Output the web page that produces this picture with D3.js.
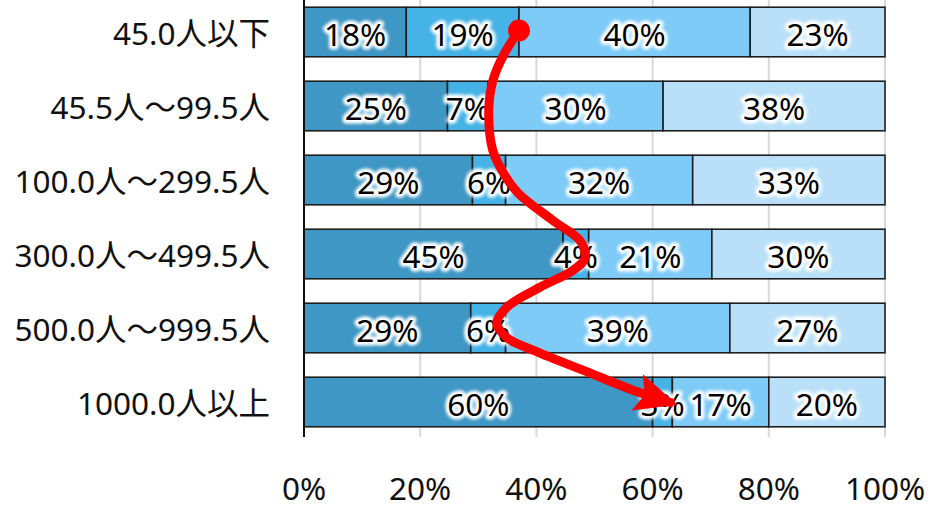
<!DOCTYPE html>
<html>
<head>
<meta charset="utf-8">
<script src="https://cdn.jsdelivr.net/npm/d3@7"></script>
<style>
  html, body { margin: 0; padding: 0; background: #fff; }
  text { font-family: "Noto Sans", "Noto Sans CJK JP", sans-serif; }
</style>
</head>
<body>
<div id="chart"></div>
<script>
// categories (top to bottom)
const categories = ['45.0人以下', '45.5人～99.5人', '100.0人～299.5人', '300.0人～499.5人', '500.0人～999.5人', '1000.0人以上'];
// share of each segment, %
const seg1 = [17.6, 24.7, 29.0, 44.6, 28.7, 60.0];
const seg2 = [19.4, 7.0, 5.7, 4.4, 6.0, 3.4];
const seg3 = [39.8, 30.1, 32.2, 21.2, 38.6, 16.6];
const seg4 = [23.2, 38.2, 33.1, 29.8, 26.7, 20.0];
// printed labels
const labels1 = [18, 25, 29, 45, 29, 60];
const labels2 = [19, 7, 6, 4, 6, 3];
const labels3 = [40, 30, 32, 21, 39, 17];
const labels4 = [23, 38, 33, 30, 27, 20];
const xTicks = [0, 20, 40, 60, 80, 100];
// red annotation arrow, [percent, row position]
const arrowPts = [[37.0, -0.02], [34.3, 0.32], [32.5, 0.66], [31.8, 1.06], [32.5, 1.60], [34.6, 1.94],
  [36.9, 2.18], [42.9, 2.55], [47.5, 2.82], [48.4, 3.05], [46.3, 3.22], [40.6, 3.45], [34.9, 3.72],
  [33.2, 3.93], [34.9, 4.13], [39.4, 4.30], [48.0, 4.57], [56.6, 4.84], [63.6, 5.02]];

const colors = ['#3e97c4', '#46b3e6', '#7ecbf7', '#b9e0f8'];

const width = 932, height = 505;
const svg = d3.select('#chart').append('svg')
  .attr('width', width).attr('height', height);

const defs = svg.append('defs');
const glow = defs.append('filter').attr('id', 'glow')
  .attr('x', '-20%').attr('y', '-30%').attr('width', '140%').attr('height', '160%');
glow.append('feGaussianBlur').attr('stdDeviation', 1.6);

defs.append('marker').attr('id', 'head')
  .attr('markerUnits', 'userSpaceOnUse')
  .attr('viewBox', '-42 -21 48 42')
  .attr('markerWidth', 48).attr('markerHeight', 42)
  .attr('refX', 0).attr('refY', 0)
  .attr('orient', 'auto')
  .append('path')
  .attr('d', 'M4,0 L-38,-19 L-30,0 L-38,19 Z')
  .attr('fill', '#ff0000');

const x = d3.scaleLinear().domain([0, 100]).range([304, 885]);
const y = d3.scaleBand().domain(categories).range([-5, 439])
  .paddingInner(0.33).paddingOuter(0.165);

const gridTop = 0, gridBottom = 437;
const fs = 31.5;

// gridlines
svg.append('g').selectAll('line')
  .data(xTicks.filter(t => t > 0))
  .join('line')
  .attr('x1', d => x(d)).attr('x2', d => x(d))
  .attr('y1', gridTop).attr('y2', gridBottom)
  .attr('stroke', '#d9d9d9').attr('stroke-width', 2);

// stacked data
const series = [seg1, seg2, seg3, seg4];
const labelSets = [labels1, labels2, labels3, labels4];
const rows = categories.map((c, i) => {
  let acc = 0;
  return series.map((s, k) => {
    const r = { cat: c, k: k, x0: acc, x1: acc + s[i], label: labelSets[k][i] + '%' };
    acc += s[i];
    return r;
  });
});
const segs = rows.flat();

svg.append('g').selectAll('rect')
  .data(segs)
  .join('rect')
  .attr('x', d => x(d.x0))
  .attr('width', d => x(Math.min(d.x1, 100)) - x(d.x0))
  .attr('y', d => y(d.cat))
  .attr('height', y.bandwidth())
  .attr('fill', d => colors[d.k])
  .attr('stroke', '#1e1e1e').attr('stroke-width', 1.6);

// axis line
svg.append('line')
  .attr('x1', x(0)).attr('x2', x(0))
  .attr('y1', gridTop).attr('y2', gridBottom)
  .attr('stroke', '#111').attr('stroke-width', 2);

// data labels with white glow
const lab = svg.append('g').selectAll('g')
  .data(segs)
  .join('g')
  .attr('transform', d => `translate(${x((d.x0 + d.x1) / 2)},${y(d.cat) + y.bandwidth() / 2 + 1})`);

lab.append('text')
  .attr('text-anchor', 'middle').attr('dominant-baseline', 'central')
  .attr('font-size', fs)
  .attr('fill', '#fff').attr('stroke', '#fff').attr('stroke-width', 7)
  .attr('stroke-linejoin', 'round')
  .attr('filter', 'url(#glow)')
  .text(d => d.label);

lab.append('text')
  .attr('text-anchor', 'middle').attr('dominant-baseline', 'central')
  .attr('font-size', fs)
  .attr('fill', '#000')
  .text(d => d.label);

// category labels
svg.append('g').selectAll('text')
  .data(categories)
  .join('text')
  .attr('x', 270)
  .attr('y', d => y(d) + y.bandwidth() / 2)
  .attr('text-anchor', 'end').attr('dominant-baseline', 'central')
  .attr('font-size', fs).attr('fill', '#111')
  .text(d => d);

// x tick labels
svg.append('g').selectAll('text')
  .data(xTicks)
  .join('text')
  .attr('x', d => x(d))
  .attr('y', 487)
  .attr('text-anchor', 'middle').attr('dominant-baseline', 'central')
  .attr('font-size', fs).attr('fill', '#111')
  .text(d => d + '%');

// red arrow annotation
const rowY = r => y(categories[0]) + y.bandwidth() / 2 + r * y.step();
const line = d3.line()
  .x(d => x(d[0])).y(d => rowY(d[1]))
  .curve(d3.curveCatmullRom.alpha(0.5));

svg.append('path')
  .attr('d', line(arrowPts))
  .attr('fill', 'none')
  .attr('stroke', '#ff0000').attr('stroke-width', 9)
  .attr('marker-end', 'url(#head)');

svg.append('circle')
  .attr('cx', x(arrowPts[0][0])).attr('cy', rowY(arrowPts[0][1]))
  .attr('r', 11).attr('fill', '#ff0000');
</script>
</body>
</html>
